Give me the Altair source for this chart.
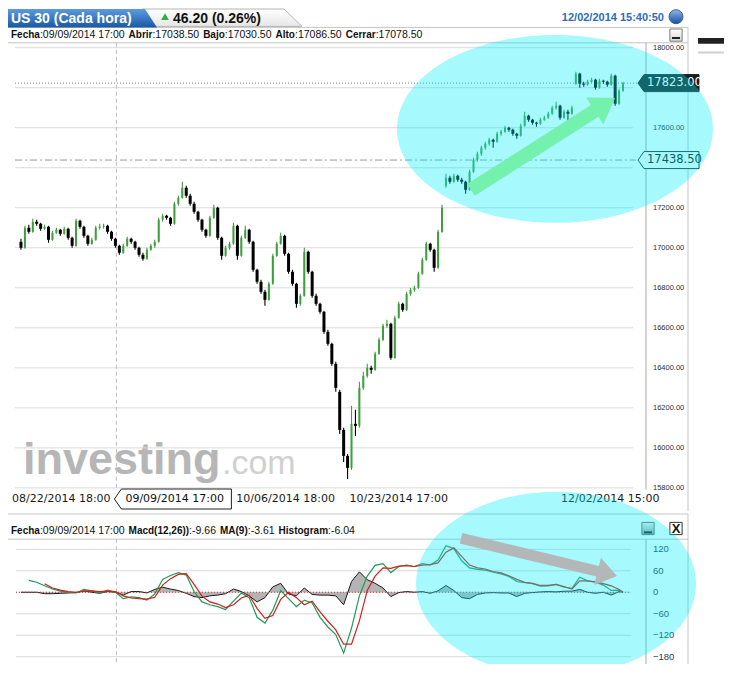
import math
import altair as alt
import pandas as pd

W, H = 716, 656
SY = H / 678.0


def Y(v):
    return round(v * SY, 1)


FONT = "Liberation Sans, Arial, sans-serif"
MONO = "DejaVu Sans, Verdana, sans-serif"
GREEN = "#3e9e3e"

# ---------------- price candles (one per time slot) ----------------
opens = [17030, 17000, 17100, 17080, 17130, 17120, 17095, 17105, 17040, 17075,
         17090, 17070, 17095, 17050, 17010, 17135, 17105, 17060, 17020, 17040,
         17100, 17105, 17110, 17080, 17045, 17010, 16975, 17010, 17045, 17030,
         17000, 16965, 16945, 16990, 17010, 17030, 17140, 17160, 17150, 17120,
         17220, 17250, 17300, 17260, 17220, 17180, 17140, 17090, 17060, 17150,
         17200, 17050, 16960, 17000, 17020, 17110, 16960, 17050, 17090, 17030,
         16890, 16830, 16780, 16740, 16820, 16960, 17020, 17060, 16970, 16880,
         16820, 16720, 16760, 16980, 16880, 16760, 16720, 16680, 16580, 16520,
         16420, 16280, 16090, 15960, 15900, 16120, 16110, 16300, 16360, 16400,
         16390, 16470, 16540, 16610, 16620, 16450, 16650, 16720, 16690, 16770,
         16790, 16800, 16870, 16940, 17020, 16990, 16900, 17080, 17310, 17350,
         17330, 17360, 17340, 17330, 17290, 17380, 17440, 17470, 17500, 17520,
         17540, 17530, 17570, 17580, 17600, 17590, 17570, 17560, 17610, 17660,
         17640, 17625, 17620, 17640, 17650, 17670, 17700, 17710, 17650, 17680,
         17670, 17820, 17870, 17820, 17815, 17830, 17840, 17800, 17835, 17830,
         17815, 17860, 17720, 17785]
highs = [17045, 17110, 17115, 17145, 17140, 17125, 17115, 17110, 17085, 17100,
         17095, 17105, 17100, 17055, 17145, 17140, 17110, 17065, 17050, 17110,
         17120, 17120, 17115, 17085, 17050, 17015, 17020, 17055, 17050, 17035,
         17005, 16975, 17000, 17020, 17040, 17150, 17170, 17165, 17155, 17230,
         17260, 17330, 17310, 17270, 17230, 17185, 17145, 17095, 17160, 17215,
         17205, 17055, 17010, 17030, 17125, 17115, 17060, 17110, 17095, 17035,
         16895, 16840, 16790, 16830, 16970, 17030, 17075, 17065, 16975, 16890,
         16825, 16770, 17000, 16985, 16885, 16770, 16725, 16685, 16590, 16525,
         16430, 16290, 16100, 15970, 16210, 16190, 16330, 16380, 16420, 16410,
         16480, 16550, 16620, 16640, 16625, 16660, 16730, 16725, 16780, 16800,
         16810, 16880, 16950, 17030, 17025, 16995, 17090, 17215, 17370, 17360,
         17370, 17365, 17350, 17335, 17390, 17450, 17480, 17510, 17530, 17550,
         17545, 17580, 17590, 17610, 17605, 17595, 17575, 17620, 17680, 17665,
         17645, 17630, 17650, 17660, 17680, 17710, 17730, 17715, 17690, 17690,
         17710, 17880, 17875, 17830, 17840, 17850, 17845, 17845, 17840, 17835,
         17870, 17865, 17795, 17830]
lows = [16990, 16995, 17070, 17075, 17110, 17085, 17090, 17025, 17035, 17070,
        17060, 17065, 17040, 17000, 17005, 17095, 17050, 17010, 17015, 17035,
        17090, 17095, 17070, 17035, 17000, 16965, 16970, 17005, 17020, 16990,
        16955, 16935, 16940, 16985, 17000, 17025, 17130, 17140, 17110, 17115,
        17210, 17245, 17250, 17210, 17170, 17130, 17080, 17050, 17055, 17145,
        17040, 16940, 16955, 16990, 17015, 16940, 16955, 17045, 17020, 16880,
        16820, 16770, 16710, 16735, 16815, 16955, 17015, 16960, 16870, 16810,
        16700, 16710, 16755, 16870, 16750, 16710, 16670, 16570, 16510, 16410,
        16280, 16070, 15930, 15845, 15890, 16060, 16100, 16290, 16350, 16370,
        16385, 16465, 16535, 16600, 16440, 16445, 16645, 16680, 16685, 16760,
        16780, 16795, 16865, 16935, 16980, 16880, 16895, 17075, 17300, 17320,
        17325, 17330, 17320, 17270, 17285, 17375, 17430, 17460, 17490, 17510,
        17500, 17525, 17560, 17575, 17580, 17560, 17545, 17555, 17605, 17630,
        17615, 17605, 17615, 17635, 17645, 17665, 17690, 17640, 17645, 17615,
        17665, 17815, 17800, 17805, 17810, 17825, 17790, 17795, 17820, 17805,
        17810, 17710, 17715, 17780]
closes = [17000, 17100, 17080, 17130, 17120, 17095, 17105, 17040, 17075, 17090,
          17070, 17095, 17050, 17010, 17135, 17105, 17060, 17020, 17040, 17100,
          17105, 17110, 17080, 17045, 17010, 16975, 17010, 17045, 17030, 17000,
          16965, 16945, 16990, 17010, 17030, 17140, 17160, 17150, 17120, 17220,
          17250, 17300, 17260, 17220, 17180, 17140, 17090, 17060, 17150, 17200,
          17050, 16960, 17000, 17020, 17110, 16960, 17050, 17090, 17030, 16890,
          16830, 16780, 16740, 16820, 16960, 17020, 17060, 16970, 16880, 16820,
          16720, 16760, 16980, 16880, 16760, 16720, 16680, 16580, 16520, 16420,
          16300, 16090, 15960, 15900, 16120, 16110, 16300, 16360, 16400, 16390,
          16470, 16540, 16610, 16620, 16450, 16650, 16720, 16690, 16770, 16790,
          16800, 16870, 16940, 17020, 16990, 16900, 17080, 17200, 17350, 17330,
          17360, 17340, 17330, 17290, 17380, 17440, 17470, 17500, 17520, 17540,
          17530, 17570, 17580, 17600, 17590, 17570, 17560, 17610, 17660, 17640,
          17625, 17620, 17640, 17650, 17670, 17700, 17710, 17650, 17680, 17670,
          17700, 17870, 17820, 17815, 17830, 17840, 17800, 17835, 17830, 17815,
          17860, 17720, 17785, 17823]

date_labels = ["08/22/2014 18:00", "10/06/2014 18:00", "10/23/2014 17:00", "12/02/2014 15:00"]
date_label_pos = [10.25, 67.25, 96.0, 149.75]
cursor_pos = 24.25
cursor_label = "09/09/2014 17:00"
price_ticks = [15800, 16000, 16200, 16400, 16600, 16800, 17000, 17200, 17400, 17600, 17800, 18000]
# 17400 and 17800 labels are hidden behind the price tags in the reference
price_labels = [15800, 16000, 16200, 16400, 16600, 16800, 17000, 17200, 17600, 18000]
last_price = 17823.00
ref_price = 17438.50

# ---------------- MACD(12,26) / MA(9) / histogram ----------------
macd_idx = list(range(2, 153, 2)) + [153]
macd_vals = [33, 28, 18, 9, 3, 0, -2, 8, 4, -2,
             6, 0, -18, -13, -15, -22, -5, 36, 47, 55,
             48, 2, -27, -35, -40, -48, -25, -2, -15, -70,
             -86, -50, 5, -18, -40, -22, -30, -70, -97, -118,
             -170, -100, -10, 45, 75, 80, 55, 72, 76, 72,
             80, 76, 90, 130, 122, 88, 68, 64, 62, 56,
             51, 44, 30, 27, 24, 17, 18, 22, 14, 11,
             42, 32, 28, 20, 5, 6, 0]
signal_vals = [None, None, 24, 12, 6, 2, 0, 3, 4, 2,
               3, 2, -10, -16, -18, -19, -14, 20, 38, 50,
               52, 22, -11, -27, -33, -43, -35, -16, -8, -45,
               -73, -65, -20, 0, -15, -35, -25, -55, -81, -105,
               -145, -145, -80, 5, 45, 68, 67, 73, 74, 72,
               76, 77, 82, 112, 124, 100, 76, 68, 65, 58,
               54, 46, 36, 28, 25, 19, 19, 22, 16, 9,
               32, 32, 29, 24, 18, 8, 0]
hist_idx = list(range(0, 153, 2)) + [153]
hist_vals = [0, 0, 0, -4, -4, -3, -2, -1, 4, 0,
             -3, 2, 0, -8, 2, 2, -2, 8, 14, 9,
             5, -3, -12, -15, -10, -8, -4, 9, 2, -10,
             -27, -15, 15, 25, -5, -10, 12, -6, -8, -8,
             -10, -35, 30, 57, 35, 25, 12, -12, -1, 2,
             0, 2, -3, 4, 19, 5, -15, -18, -6, -2,
             -1, -2, -2, -12, -3, -1, 1, 2, 1, 3,
             3, 8, 0, -3, 0, -8, 2, 0]
macd_ticks = [-180, -120, -60, 0, 60, 120]

# ---------------- header texts ----------------
header_title = "US 30 (Cada hora)"
header_change = "46.20 (0.26%)"
header_time = "12/02/2014 15:40:50"
info_top = [("Fecha", ":09/09/2014 17:00"), ("Abrir", ":17038.50"), ("Bajo", ":17030.50"),
            ("Alto", ":17086.50"), ("Cerrar", ":17078.50")]
info_bottom = [("Fecha", ":09/09/2014 17:00"), ("Macd(12,26))", ":-9.66"),
               ("MA(9)", ":-3.61"), ("Histogram", ":-6.04")]
watermark = ("investing", ".com")

# ---------------- helpers ----------------
ONE = pd.DataFrame({"k": [0]})

# Arial / Liberation Sans advance widths (1/1000 em) for laying out the info rows
REG_W = {":": 278, "/": 278, " ": 278, ".": 278, "-": 333, "(": 333, ")": 333, ",": 278}
BOLD_W = {"F": 611, "e": 556, "c": 556, "h": 611, "a": 556, "A": 722, "b": 611, "r": 389,
          "i": 278, "B": 722, "j": 278, "o": 611, "l": 278, "t": 333, "C": 722, "M": 833,
          "d": 611, "(": 333, ")": 333, ",": 278, "H": 722, "s": 556, "g": 611, "m": 889}


def text_width(s, table, size):
    return sum(table.get(ch, 556) for ch in s) * size / 1000.0


def seg(x1, y1, x2, y2, color="#c4c4c4", width=1.0, dash=None):
    kw = dict(color=color, strokeWidth=width)
    if dash:
        kw["strokeDash"] = dash
    return alt.Chart(ONE).mark_rule(**kw).encode(
        x=alt.value(x1), x2=alt.value(x2), y=alt.value(y1), y2=alt.value(y2))


def label(x, y, s, size=11, weight="normal", color="#111111", font=FONT,
          align="left", baseline="middle"):
    return alt.Chart(ONE).mark_text(text=s, fontSize=size, fontWeight=weight, color=color,
                                    font=font, align=align, baseline=baseline).encode(
        x=alt.value(x), y=alt.value(y))


def poly(points):
    return "M " + " L ".join(f"{px:.1f} {py:.1f}" for px, py in points) + " Z"


def ellipse(a, b):
    k = 0.5523
    return (f"M {-a:.1f} 0 C {-a:.1f} {-k*b:.1f} {-k*a:.1f} {-b:.1f} 0 {-b:.1f} "
            f"C {k*a:.1f} {-b:.1f} {a:.1f} {-k*b:.1f} {a:.1f} 0 "
            f"C {a:.1f} {k*b:.1f} {k*a:.1f} {b:.1f} 0 {b:.1f} "
            f"C {-k*a:.1f} {b:.1f} {-a:.1f} {k*b:.1f} {-a:.1f} 0 Z")


def arrow(x0, y0, x1, y1, sw, hw, hl):
    dx, dy = x1 - x0, y1 - y0
    L = math.hypot(dx, dy)
    ux, uy = dx / L, dy / L
    nx, ny = -uy, ux
    bx, by = dx - ux * hl, dy - uy * hl
    pts = [(nx * sw, ny * sw), (bx + nx * sw, by + ny * sw), (bx + nx * hw, by + ny * hw),
           (dx, dy), (bx - nx * hw, by - ny * hw), (bx - nx * sw, by - ny * sw),
           (-nx * sw, -ny * sw)]
    return poly(pts)


def shape(path, fill, x=0, y=0, stroke=None, sw=1.0, fo=1.0):
    kw = dict(shape=path, size=4, filled=True, fill=fill, fillOpacity=fo, opacity=1)
    if stroke:
        kw.update(stroke=stroke, strokeWidth=sw, strokeOpacity=1)
    else:
        kw.update(strokeWidth=0)
    return alt.Chart(ONE).mark_point(**kw).encode(x=alt.value(x), y=alt.value(y))


def vgrad(c0, c1):
    return alt.LinearGradient(gradient="linear",
                              stops=[alt.GradientStop(color=c0, offset=0),
                                     alt.GradientStop(color=c1, offset=1)],
                              x1=0, x2=0, y1=0, y2=1)


def info_row(items, y):
    out = []
    x = 3.0
    for name, val in items:
        out.append(label(x, y, name, size=10, weight="bold"))
        x += text_width(name, BOLD_W, 10)
        out.append(label(x, y, val, size=10.5))
        x += text_width(val, REG_W, 10.5) + 4
    return out


# ---------------- scales ----------------
XS = alt.Scale(domain=[-0.5, 153.5], range=[6, 622], nice=False, zero=False)
PY = alt.Scale(domain=[15800, 18000], range=[Y(496), Y(41)], nice=False, zero=False)
MY = alt.Scale(domain=[-180, 120], range=[Y(670.5), Y(559.5)], nice=False, zero=False)
xq = alt.X("i:Q", scale=XS, axis=None)

# ---------------- price panel ----------------
cdf = pd.DataFrame({"i": list(range(len(closes))), "open": opens, "high": highs,
                    "low": lows, "close": closes})
cdf["dir"] = ["up" if c >= o else "down" for o, c in zip(opens, closes)]

pgrid = alt.Chart(pd.DataFrame({"v": price_ticks})).mark_rule(color="#dadada", strokeWidth=1).encode(
    x=alt.value(7), x2=alt.value(625), y=alt.Y("v:Q", scale=PY, axis=None))
plabels = alt.Chart(pd.DataFrame({"v": price_labels})).mark_text(
    align="left", baseline="middle", font=FONT, fontSize=7.5, color="#1e2e40").encode(
    x=alt.value(645), y=alt.Y("v:Q", scale=PY, axis=None), text=alt.Text("v:Q", format=".2f"))

wicks = alt.Chart(cdf).mark_rule(strokeWidth=1.1).encode(
    x=xq, y=alt.Y("low:Q", scale=PY, axis=None), y2="high:Q",
    color=alt.Color("dir:N", scale=alt.Scale(domain=["up", "down"], range=[GREEN, "#000000"]),
                    legend=None))
bodies_down = alt.Chart(cdf).transform_filter("datum.dir == 'down'").mark_bar(
    width=3.0, color="#000000").encode(
    x=xq, y=alt.Y("open:Q", scale=PY, axis=None), y2="close:Q")
bodies_up = alt.Chart(cdf).transform_filter("datum.dir == 'up'").mark_bar(
    width=2.0, color=GREEN).encode(
    x=xq, y=alt.Y("open:Q", scale=PY, axis=None), y2="close:Q")

last_line = alt.Chart(ONE).mark_rule(color="#808080", strokeDash=[1, 2]).encode(
    x=alt.value(7), x2=alt.value(630), y=alt.YDatum(last_price, scale=PY, axis=None))
ref_line = alt.Chart(ONE).mark_rule(color="#9a9a9a", strokeDash=[7, 3, 2, 3]).encode(
    x=alt.value(7), x2=alt.value(628), y=alt.YDatum(ref_price, scale=PY, axis=None))
cursor_top = alt.Chart(ONE).mark_rule(color="#bdbdbd", strokeDash=[4, 3]).encode(
    x=alt.XDatum(cursor_pos, scale=XS, axis=None), y=alt.value(Y(36)), y2=alt.value(Y(497)))

dates = alt.Chart(pd.DataFrame({"pos": date_label_pos, "label": date_labels})).mark_text(
    font=MONO, fontSize=11, color="#1a1a1a", baseline="middle").encode(
    x=alt.X("pos:Q", scale=XS, axis=None), y=alt.value(Y(507)), text="label:N")

cursor_box = alt.Chart(ONE).mark_point(
    shape=poly([(-2, 0), (5, -10), (115, -10), (115, 10), (5, 10)]), size=4, filled=True,
    fill="white", stroke="#222222", strokeWidth=1, opacity=1).encode(
    x=alt.XDatum(cursor_pos, scale=XS, axis=None), y=alt.value(Y(507.5)))
cursor_txt = alt.Chart(ONE).mark_text(text=cursor_label, align="left", dx=9, font=MONO,
                                      fontSize=11, color="#111111", baseline="middle").encode(
    x=alt.XDatum(cursor_pos, scale=XS, axis=None), y=alt.value(Y(507.5)))

tag_path = poly([(-30, 0), (-24, -8.5), (31, -8.5), (31, 8.5), (-24, 8.5)])
tag_ref = alt.Chart(ONE).mark_point(shape=tag_path, size=4, filled=True, fill="white",
                                    stroke="#2a2a2a", strokeWidth=1, opacity=1).encode(
    x=alt.value(660), y=alt.YDatum(ref_price, scale=PY, axis=None))
tag_ref_txt = alt.Chart(ONE).mark_text(text=f"{ref_price:.2f}", align="left", font=MONO,
                                       fontSize=11.5, color="#111111", baseline="middle").encode(
    x=alt.value(639), y=alt.YDatum(ref_price, scale=PY, axis=None))
tag_last = alt.Chart(ONE).mark_point(shape=tag_path, size=4, filled=True, fill="#1c1c1c",
                                     stroke="#1c1c1c", strokeWidth=1, opacity=1).encode(
    x=alt.value(660), y=alt.YDatum(last_price, scale=PY, axis=None))
tag_last_txt = alt.Chart(ONE).mark_text(text=f"{last_price:.2f}", align="left", font=MONO,
                                        fontSize=11.5, color="white", baseline="middle").encode(
    x=alt.value(639), y=alt.YDatum(last_price, scale=PY, axis=None))

top = alt.layer(pgrid, plabels, last_line, ref_line, cursor_top, wicks, bodies_down, bodies_up,
                dates, cursor_box, cursor_txt, tag_ref, tag_ref_txt, tag_last, tag_last_txt)

# ---------------- MACD panel ----------------
mdf = pd.DataFrame({"i": macd_idx, "m": macd_vals})
sdf = pd.DataFrame({"i": macd_idx, "s": signal_vals}).dropna()
hdf = pd.DataFrame({"i": hist_idx, "h": hist_vals})

mtk = pd.DataFrame({"v": macd_ticks})
mgrid = alt.Chart(mtk).mark_rule(color="#dadada", strokeWidth=1).encode(
    x=alt.value(8), x2=alt.value(623), y=alt.Y("v:Q", scale=MY, axis=None))
mlabels = alt.Chart(mtk).mark_text(align="left", baseline="middle", font=FONT, fontSize=9.5,
                                   color="#2a3d52").encode(
    x=alt.value(645), y=alt.Y("v:Q", scale=MY, axis=None), text=alt.Text("v:Q", format="d"))

cursor_bot = alt.Chart(ONE).mark_rule(color="#bdbdbd", strokeDash=[4, 3]).encode(
    x=alt.XDatum(cursor_pos, scale=XS, axis=None), y=alt.value(Y(549)), y2=alt.value(Y(678)))
hist = alt.Chart(hdf).mark_area(color="#b4b4b4", opacity=1,
                                line={"color": "#1a1a1a", "strokeWidth": 1}).encode(
    x=xq, y=alt.Y("h:Q", scale=MY, axis=None), y2=alt.Y2Datum(0))
zero_line = alt.Chart(ONE).mark_rule(color="#d23a3a", strokeDash=[1, 2]).encode(
    x=alt.value(8), x2=alt.value(623), y=alt.YDatum(0, scale=MY, axis=None))
macd_line = alt.Chart(mdf).mark_line(color="#1f9b57", strokeWidth=1.2).encode(
    x=xq, y=alt.Y("m:Q", scale=MY, axis=None))
sig_line = alt.Chart(sdf).mark_line(color="#d01f1f", strokeWidth=1.2).encode(
    x=xq, y=alt.Y("s:Q", scale=MY, axis=None))

bottom = alt.layer(mgrid, mlabels, cursor_bot, hist, zero_line, macd_line, sig_line)

# ---------------- decorations ----------------
back = [
    label(15, Y(482), watermark[0], size=45, weight="bold", color="#b6b6b6",
          baseline="alphabetic"),
    label(214, Y(482), watermark[1], size=34, color="#d0d0d0", baseline="alphabetic"),
    seg(0, Y(20), 680, Y(20)),
    seg(0, Y(36), 680, Y(36)),
    seg(680, Y(20), 680, Y(520)),
    seg(638, Y(36), 638, Y(498), color="#a8a8a8"),
    seg(0, Y(523), 680, Y(523)),
    seg(0, Y(549), 680, Y(549)),
    seg(680, Y(523), 680, Y(678)),
    seg(638, Y(549), 638, Y(678), color="#a8a8a8"),
]

header = [
    shape(poly([(134, Y(1)), (276, Y(1)), (294, Y(19)), (146, Y(19))]),
          vgrad("#ffffff", "#e6e6e6"), stroke="#b5b5b5", sw=1),
    shape(poly([(0, Y(1)), (137, Y(1)), (149, Y(20)), (0, Y(20))]),
          vgrad("#5d9be0", "#1b58a5")),
    label(3, Y(11), header_title, size=14, weight="bold", color="white"),
    alt.Chart(ONE).mark_point(shape="triangle-up", size=60, filled=True, color="#2fae3a",
                              opacity=1).encode(x=alt.value(157), y=alt.value(Y(9))),
    label(165, Y(11), header_change, size=14, weight="bold", color="#111111"),
    label(656, Y(10), header_time, size=11, weight="bold", color="#2b6cc0", align="right"),
    alt.Chart(ONE).mark_point(shape="circle", size=196, filled=True,
                              fill=vgrad("#8fb6ea", "#1d4f9c"), stroke="#3b5f8f",
                              strokeWidth=1, opacity=1).encode(
        x=alt.value(668), y=alt.value(Y(9))),
    alt.Chart(ONE).mark_rect(color="#222222").encode(
        x=alt.value(690), x2=alt.value(740), y=alt.value(Y(31)), y2=alt.value(Y(37))),
    seg(690, Y(46), 718, Y(46), color="#d0d0d0", width=2),
    alt.Chart(ONE).mark_point(shape="square", size=150, filled=True,
                              fill=vgrad("#ffffff", "#d8d8d8"), stroke="#7a7a7a",
                              strokeWidth=1, opacity=1).encode(
        x=alt.value(668), y=alt.value(Y(28))),
    seg(664, Y(31), 672, Y(31), color="#222222", width=2),
    alt.Chart(ONE).mark_point(shape="square", size=150, filled=True,
                              fill=vgrad("#f2f2f2", "#9a9a9a"), stroke="#6a6a6a",
                              strokeWidth=1, opacity=1).encode(
        x=alt.value(640), y=alt.value(Y(538))),
    seg(636, Y(542), 644, Y(542), color="#222222", width=2),
    alt.Chart(ONE).mark_point(shape="square", size=150, filled=True, fill="white",
                              stroke="#333333", strokeWidth=1, opacity=1).encode(
        x=alt.value(668), y=alt.value(Y(538))),
    label(668, Y(538.5), "X", size=13, weight="bold", color="#111111", align="center"),
]
header += info_row(info_top, Y(28))
header += info_row(info_bottom, Y(541))

overlay = [
    shape(ellipse(158, 97 * SY), "#00eef5", x=547, y=Y(125), fo=0.35),
    shape(ellipse(140, 95 * SY), "#00eef5", x=548, y=Y(595), fo=0.35),
    shape(arrow(0, 0, 607 - 463, Y(93) - Y(188), 7, 16, 24), "#73f1ad", x=463, y=Y(188)),
    shape(arrow(0, 0, 609 - 453, Y(587) - Y(548), 5.5, 14, 20), "#b4b7b7", x=453, y=Y(548)),
]

chart = alt.layer(*back, top, bottom, *header, *overlay).resolve_scale(
    y="independent"
).properties(
    width=W, height=H, autosize=alt.AutoSizeParams(type="none"), padding=0,
    background="white"
).configure_view(stroke=None)

chart.save("out.html", embed_options={"renderer": "svg", "actions": False})
